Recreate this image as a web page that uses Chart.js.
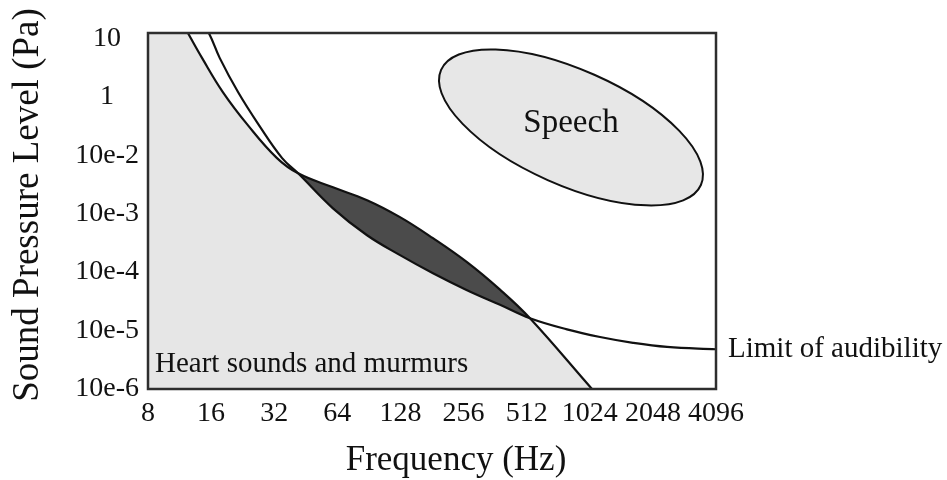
<!DOCTYPE html>
<html>
<head>
<meta charset="utf-8">
<script src="https://cdn.jsdelivr.net/npm/chart.js@4/dist/chart.umd.min.js"></script>
<style>
  html, body { margin: 0; padding: 0; background: #ffffff; }
  #wrap { width: 947px; height: 480px; }
</style>
</head>
<body>
<div id="wrap"><canvas id="chart" width="947" height="480"></canvas></div>
<script>
// Frequency ticks (Hz), octave spaced
const freqTicks = [8, 16, 32, 64, 128, 256, 512, 1024, 2048, 4096];
// Sound pressure level labels, one per level step (bottom to top)
const levelLabels = ['10e-6', '10e-5', '10e-4', '10e-3', '10e-2', '1', '10'];

// Upper boundary of heart sounds and murmurs
const heartFreq  = [8, 12.4, 14.5, 18.2, 24.0, 33.0, 41.6, 61.0, 88.7, 127.4, 183, 265.9, 382, 531, 1049, 1307];
const heartLevel = [7.3, 6.09, 5.66, 5.08, 4.51, 3.95, 3.69, 3.45, 3.23, 2.94, 2.58, 2.17, 1.70, 1.21, 0.0, -0.38];

// Limit of audibility
const audFreq  = [8, 15.6, 17.6, 21.5, 27.1, 34.9, 41.6, 61.0, 88.7, 127.4, 183, 265.9, 382, 531, 797, 1146, 1646, 2392, 4096];
const audLevel = [8.0, 6.09, 5.66, 5.08, 4.51, 3.95, 3.69, 3.09, 2.63, 2.29, 1.98, 1.69, 1.44, 1.21, 1.02, 0.89, 0.79, 0.72, 0.68];

// Speech region: ends of its long axis and half of its short axis (level units)
const speechAxisFreq  = [200, 3470];
const speechAxisLevel = [5.46, 3.49];
const speechHalfWidth = 0.985;

const SERIF = '"Liberation Serif", "Times New Roman", serif';
const INK = '#111111';

const toPoints = (xs, ys) => xs.map((x, i) => ({ x: x, y: ys[i] }));

const overlay = {
  id: 'overlay',
  beforeDatasetsDraw(chart) {
    const { ctx, scales: { x, y } } = chart;
    const x1 = x.getPixelForValue(speechAxisFreq[0]);
    const y1 = y.getPixelForValue(speechAxisLevel[0]);
    const x2 = x.getPixelForValue(speechAxisFreq[1]);
    const y2 = y.getPixelForValue(speechAxisLevel[1]);
    const cx = (x1 + x2) / 2, cy = (y1 + y2) / 2;
    const a = Math.hypot(x2 - x1, y2 - y1) / 2;
    const b = Math.abs(y.getPixelForValue(0) - y.getPixelForValue(speechHalfWidth));
    const rot = Math.atan2(y2 - y1, x2 - x1);
    ctx.save();
    ctx.beginPath();
    ctx.ellipse(cx, cy, a, b, rot, 0, Math.PI * 2);
    ctx.fillStyle = '#e7e7e7';
    ctx.fill();
    ctx.lineWidth = 2;
    ctx.strokeStyle = INK;
    ctx.stroke();
    ctx.fillStyle = INK;
    ctx.font = '33px ' + SERIF;
    ctx.textAlign = 'center';
    ctx.textBaseline = 'middle';
    ctx.fillText('Speech', cx, cy - 4);
    ctx.restore();
  },
  afterDatasetsDraw(chart) {
    const { ctx, chartArea: ca, scales: { x, y } } = chart;
    ctx.save();
    // plot frame
    ctx.strokeStyle = '#2e2e2e';
    ctx.lineWidth = 2.5;
    ctx.strokeRect(ca.left, ca.top, ca.right - ca.left, ca.bottom - ca.top);

    ctx.fillStyle = INK;
    ctx.font = '29px ' + SERIF;
    ctx.textAlign = 'left';
    ctx.textBaseline = 'alphabetic';
    ctx.fillText('Heart sounds and murmurs', ca.left + 7, ca.bottom - 17);

    const lastX = x.getPixelForValue(audFreq[audFreq.length - 1]);
    const lastY = y.getPixelForValue(audLevel[audLevel.length - 1]);
    ctx.textBaseline = 'middle';
    ctx.fillText('Limit of audibility', lastX + 12, lastY);

    // axis titles
    ctx.textAlign = 'center';
    ctx.textBaseline = 'alphabetic';
    ctx.font = '35px ' + SERIF;
    ctx.fillText('Frequency (Hz)', ca.left + (ca.right - ca.left) / 2 + 24, 470);

    ctx.translate(28, ca.top + (ca.bottom - ca.top) / 2 - 6);
    ctx.rotate(-Math.PI / 2);
    ctx.textBaseline = 'middle';
    ctx.font = '37px ' + SERIF;
    ctx.fillText('Sound Pressure Level (Pa)', 0, 0);
    ctx.restore();
  }
};

new Chart(document.getElementById('chart'), {
  type: 'line',
  data: {
    datasets: [
      {
        label: 'Heart sounds and murmurs',
        data: toPoints(heartFreq, heartLevel),
        borderColor: INK,
        borderWidth: 2.2,
        backgroundColor: '#4b4b4b',
        fill: { target: 1, above: '#4b4b4b', below: 'rgba(0,0,0,0)' },
        order: 1
      },
      {
        label: 'Limit of audibility',
        data: toPoints(audFreq, audLevel),
        borderColor: INK,
        borderWidth: 2.2,
        fill: false,
        order: 2
      },
      {
        label: 'Heart sounds area',
        data: toPoints(heartFreq, heartLevel),
        borderWidth: 0,
        borderColor: 'rgba(0,0,0,0)',
        backgroundColor: '#e6e6e6',
        fill: 'start',
        order: 3
      }
    ]
  },
  options: {
    responsive: false,
    animation: false,
    events: [],
    layout: { padding: { left: 0, top: 33, right: 231, bottom: 0 } },
    elements: {
      point: { radius: 0, hoverRadius: 0 },
      line: { cubicInterpolationMode: 'default', tension: 0.4 }
    },
    plugins: {
      legend: { display: false },
      tooltip: { enabled: false },
      filler: { drawTime: 'beforeDatasetsDraw' }
    },
    scales: {
      x: {
        type: 'logarithmic',
        min: 8,
        max: 4096,
        afterBuildTicks: (s) => { s.ticks = freqTicks.map(v => ({ value: v })); },
        afterFit: (s) => { s.height = 91; },
        grid: { display: false, drawTicks: false, tickLength: 0 },
        border: { display: false },
        ticks: {
          autoSkip: false,
          maxRotation: 0,
          minRotation: 0,
          padding: 8,
          color: INK,
          font: { family: SERIF, size: 28 },
          callback: (v) => String(v)
        },
        title: { display: false }
      },
      y: {
        type: 'linear',
        min: 0,
        max: 6.09,
        afterBuildTicks: (s) => { s.ticks = levelLabels.map((_, i) => ({ value: i })); },
        afterFit: (s) => { s.width = 148; },
        grid: { display: false, drawTicks: false, tickLength: 0 },
        border: { display: false },
        ticks: {
          crossAlign: 'center',
          padding: 9,
          color: INK,
          font: { family: SERIF, size: 28 },
          callback: (v) => levelLabels[Math.round(v)]
        },
        title: { display: false }
      }
    }
  },
  plugins: [overlay]
});
</script>
</body>
</html>
